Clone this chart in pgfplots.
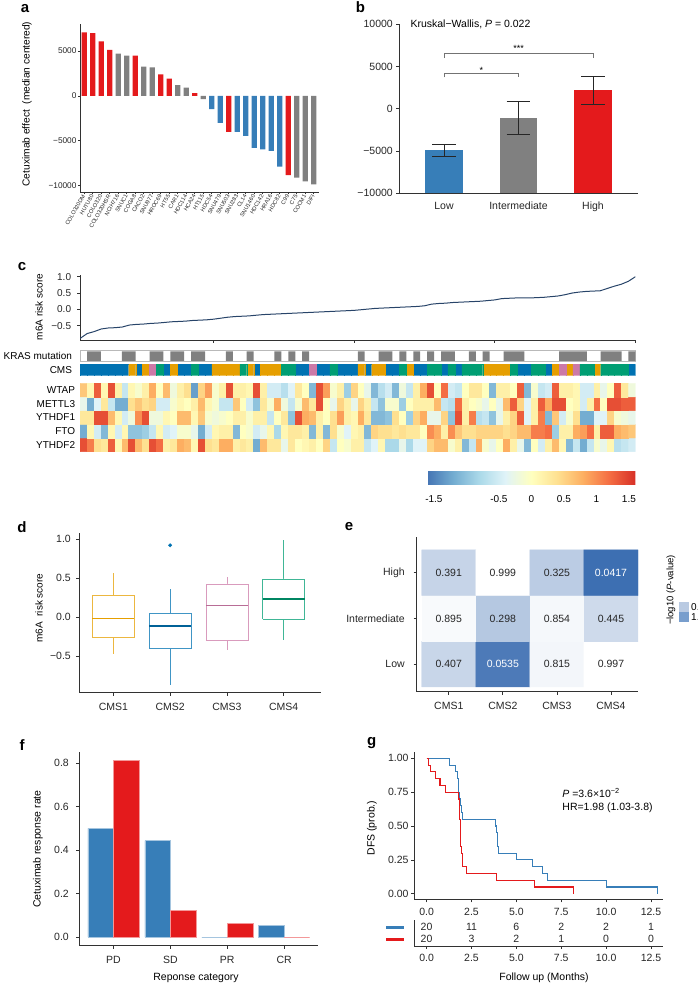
\documentclass[border=0pt]{standalone}
\usepackage{fontspec}
\setmainfont{Liberation Sans}
\usepackage{pgfplots}
\pgfplotsset{compat=1.18}
\newcommand\fs[1]{\fontsize{#1bp}{#1bp}\selectfont}
\definecolor{cred}{RGB}{228,26,28}
\definecolor{cblue}{RGB}{55,126,184}
\definecolor{cgray}{RGB}{128,128,128}
\definecolor{navy}{RGB}{40,68,105}
\definecolor{cms1}{RGB}{230,159,0}
\definecolor{cms2}{RGB}{0,114,178}
\definecolor{cms3}{RGB}{204,121,167}
\definecolor{cms4}{RGB}{0,158,115}
\definecolor{axisc}{RGB}{50,50,50}
\definecolor{lega}{RGB}{185,202,226}
\definecolor{legb}{RGB}{120,158,205}
\pgfplotsset{
  base/.style={scale only axis, anchor=south west, axis lines*=left,
    axis line style={line width=0.7bp, axisc},
    tick style={line width=0.7bp, axisc},
    tick align=outside, major tick length=3bp, scaled ticks=false,
    tick label style={font=\fs{10.5}, text=black!85},
    /pgf/number format/assume math mode=true},
}
\begin{document}
\begin{tikzpicture}[x=1bp,y=1bp]
\useasboundingbox (0,0) rectangle (698,984);

% ---------------- panel a
\begin{axis}[base, at={(80bp,791.7bp)}, width=239.3bp, height=168.3bp,
  xmin=-0.506, xmax=27.65, ymin=-10735, ymax=8007,
  major tick length=2bp,
  ytick={-10000,-5000,0,5000}, yticklabels={−10000,−5000,0,5000},
  yticklabel style={font=\fs{8.3}, xshift=2bp},
  xtick={0,...,27},
  xticklabels={COLO320DM,HUTU80,COLO320,COLO320HSR,NCIH716,SNUC1,COGA8,CACO2,SNU977,HROC69,HT55,CAR1,HDC114,HCA24,HT115,HDC54,SNU479,SNU503,SNU283,CL14,SNU1460,HDC142,HRA16,HDC82,C99,C75,COCM1,DIFI},
  xticklabel style={rotate=60, anchor=east, font=\fs{5.6}, inner sep=1bp}]
\addplot[ybar, bar width=5.3bp, fill=cred, draw=none] coordinates {(0,7074)(1,7000)(2,6074)(3,5111)(6,4481)(9,2407)(10,1926)(13,296)(17,-4000)(24,-8815)};
\addplot[ybar, bar width=5.3bp, fill=cgray, draw=none] coordinates {(4,4700)(5,4481)(7,3259)(8,3185)(11,1185)(12,926)(14,-370)(25,-9111)(26,-9519)(27,-9852)};
\addplot[ybar, bar width=5.3bp, fill=cblue, draw=none] coordinates {(15,-1481)(16,-3000)(18,-4000)(19,-4444)(20,-5778)(21,-5963)(22,-6111)(23,-7889)};
\end{axis}
\node[rotate=90, font=\fs{10.2}] at (27,880) {Cetuximab effect~~(median centered)};
\node[font=\bfseries\fs{15}] at (25,975) {a};

% ---------------- panel b
\begin{axis}[base, at={(399.3bp,790.7bp)}, width=238.4bp, height=169bp,
  xmin=0.4, xmax=3.6, ymin=-10000, ymax=10000,
  ytick={-10000,-5000,0,5000,10000}, yticklabels={−10000,−5000,0,5000,10000},
  xtick={1,2,3}, xticklabels={Low,Intermediate,High},
  x tick style={draw=none}, xticklabel style={yshift=-2bp}]
\addplot[fill=cblue, draw=none, mark=none] coordinates {(0.75,-10000)(0.75,-4921)(1.25,-4921)(1.25,-10000)};
\addplot[fill=cgray, draw=none, mark=none] coordinates {(1.75,-10000)(1.75,-1102)(2.25,-1102)(2.25,-10000)};
\addplot[fill=cred, draw=none, mark=none] coordinates {(2.75,-10000)(2.75,2205)(3.25,2205)(3.25,-10000)};
% error bars
\addplot[black!85, line width=0.8bp, mark=none] coordinates {(1,-5590)(1,-4173)};
\addplot[black!85, line width=0.8bp, mark=none] coordinates {(0.84,-5590)(1.16,-5590)};
\addplot[black!85, line width=0.8bp, mark=none] coordinates {(0.84,-4173)(1.16,-4173)};
\addplot[black!85, line width=0.8bp, mark=none] coordinates {(2,-3031)(2,827)};
\addplot[black!85, line width=0.8bp, mark=none] coordinates {(1.84,-3031)(2.16,-3031)};
\addplot[black!85, line width=0.8bp, mark=none] coordinates {(1.84,827)(2.16,827)};
\addplot[black!85, line width=0.8bp, mark=none] coordinates {(3,512)(3,3819)};
\addplot[black!85, line width=0.8bp, mark=none] coordinates {(2.84,512)(3.16,512)};
\addplot[black!85, line width=0.8bp, mark=none] coordinates {(2.84,3819)(3.16,3819)};
% significance brackets
\addplot[black!55, line width=0.6bp, mark=none] coordinates {(1,5993)(1,6548)(3,6548)(3,5993)};
\addplot[black!55, line width=0.6bp, mark=none] coordinates {(1,3712)(1,4255)(2,4255)(2,3712)};
\node[anchor=base, font=\fs{9}, yshift=1.5bp] at (axis cs:2,6548) {***};
\node[anchor=base, font=\fs{9}, yshift=-0.5bp] at (axis cs:1.5,4255) {*};
\end{axis}
\node[anchor=west, font=\fs{10.5}] at (407,960) {Kruskal−Wallis, \textit{P} = 0.022};
\node[font=\bfseries\fs{15}] at (360.5,976.5) {b};

% ---------------- panel c : risk line
\begin{axis}[base, at={(80.1bp,644bp)}, width=555.3bp, height=64.9bp,
  xmin=1, xmax=80, ymin=-0.937, ymax=1.05,
  xtick={20,40,60,80}, xticklabels={},
  ytick={-0.5,0,0.5,1}, yticklabels={−0.5,0.0,0.5,1.0},
  yticklabel style={font=\fs{10}, xshift=-2.5bp}]
\addplot[navy, line width=1bp, mark=none] coordinates {(1,-0.89)(2,-0.74)(3,-0.68)(4,-0.60)(5,-0.57)(6,-0.56)(7,-0.54)(8,-0.48)(9,-0.46)(10,-0.45)(11,-0.43)(12,-0.42)(13,-0.40)(14,-0.38)(15,-0.37)(16,-0.36)(17,-0.34)(18,-0.33)(19,-0.32)(20,-0.30)(21,-0.27)(22,-0.24)(23,-0.22)(24,-0.21)(25,-0.20)(26,-0.18)(27,-0.16)(28,-0.15)(29,-0.14)(30,-0.13)(31,-0.12)(32,-0.11)(33,-0.10)(34,-0.09)(35,-0.08)(36,-0.07)(37,-0.06)(38,-0.05)(39,-0.04)(40,-0.03)(41,-0.01)(42,0.01)(43,0.03)(44,0.04)(45,0.05)(46,0.06)(47,0.07)(48,0.08)(49,0.09)(50,0.11)(51,0.16)(52,0.18)(53,0.19)(54,0.21)(55,0.22)(56,0.23)(57,0.24)(58,0.25)(59,0.27)(60,0.29)(61,0.33)(62,0.34)(63,0.35)(64,0.35)(65,0.35)(66,0.36)(67,0.37)(68,0.39)(69,0.41)(70,0.45)(71,0.50)(72,0.53)(73,0.55)(74,0.56)(75,0.57)(76,0.64)(77,0.71)(78,0.77)(79,0.86)(80,1.00)};
\end{axis}
\node[rotate=90, font=\fs{10}] at (39,677) {m6A risk score};
\node[font=\bfseries\fs{15}] at (22,717) {c};

% KRAS row
\begin{axis}[scale only axis, anchor=south west, at={(80.1bp,622.3bp)}, width=555.3bp, height=11bp,
  xmin=0.5, xmax=80.5, ymin=-0.08, ymax=1.08, ticks=none,
  axis line style={draw=gray!55, line width=0.6bp}]
\addplot[ybar, bar width=6.94bp, fill=cgray, draw=none] coordinates {(2,1)(3,1)(7,1)(8,1)(11,1)(12,1)(14,1)(15,1)(17,1)(18,1)(22,1)(25,1)(29,1)(31,1)(33,1)(41,1)(44,1)(45,1)(47,1)(49,1)(51,1)(53,1)(54,1)(57,1)(59,1)(62,1)(63,1)(64,1)(70,1)(71,1)(72,1)(73,1)(76,1)(77,1)(78,1)(80,1)};
\end{axis}
\node[anchor=east, font=\fs{10}] at (75.5,628) {KRAS mutation};

% CMS row
\begin{axis}[scale only axis, anchor=south west, at={(80.1bp,608.3bp)}, width=555.3bp, height=11.4bp,
  xmin=0.5, xmax=80.5, ymin=0, ymax=1, ticks=none, axis line style={draw=none}]
\addplot[ybar, bar width=6.94bp, fill=cms2, draw=cms2, line width=0.2bp] coordinates {(1,1)(2,1)(3,1)(4,1)(5,1)(6,1)(7,1)(9,1)(13,1)(15,1)(16,1)(18,1)(19,1)(26,1)(32,1)(33,1)(35,1)(36,1)(38,1)(39,1)(40,1)(42,1)(45,1)(46,1)(49,1)(50,1)(53,1)(55,1)(64,1)(65,1)(68,1)(80,1)};
\addplot[ybar, bar width=6.94bp, fill=cms1, draw=cms1, line width=0.2bp] coordinates {(8,1)(10,1)(14,1)(20,1)(21,1)(22,1)(23,1)(25,1)(27,1)(28,1)(29,1)(41,1)(43,1)(44,1)(48,1)(59,1)(60,1)(61,1)(62,1)(69,1)(71,1)(75,1)};
\addplot[ybar, bar width=6.94bp, fill=cms3, draw=cms3, line width=0.2bp] coordinates {(11,1)(34,1)(70,1)(72,1)};
\addplot[ybar, bar width=6.94bp, fill=cms4, draw=cms4, line width=0.2bp] coordinates {(12,1)(17,1)(24,1)(30,1)(31,1)(37,1)(47,1)(51,1)(52,1)(54,1)(56,1)(57,1)(58,1)(63,1)(66,1)(67,1)(73,1)(74,1)(76,1)(77,1)(78,1)(79,1)};
\end{axis}
\node[anchor=east, font=\fs{10}] at (75.5,614) {CMS};

% heatmap
\begin{axis}[scale only axis, anchor=south west, at={(80.1bp,532.3bp)}, width=555.3bp, height=68.4bp,
  xmin=0.5, xmax=80.5, ymin=0.5, ymax=5.5, axis line style={draw=none},
  xtick=\empty, ytick={1,2,3,4,5}, yticklabels={YTHDF2,FTO,YTHDF1,METTL3,WTAP},
  major tick length=0pt, yticklabel style={font=\fs{10}, xshift=-1.5bp},
  colormap={rdylbu}{rgb255(0cm)=(69,117,180); rgb255(1cm)=(116,173,209); rgb255(2cm)=(171,217,233); rgb255(3cm)=(224,243,248); rgb255(4cm)=(255,255,191); rgb255(5cm)=(254,224,144); rgb255(6cm)=(253,174,97); rgb255(7cm)=(244,109,67); rgb255(8cm)=(215,48,39)},
  point meta min=-1.6, point meta max=1.6,
  colorbar horizontal,
  colorbar style={scale only axis, width=208bp, height=13bp,
    at={(parent axis.south east)}, anchor=north east, yshift=-11.3bp,
    xtick={-1.5,-0.5,0,0.5,1,1.5}, xticklabels={-1.5,-0.5,0,0.5,1,1.5},
    major tick length=0pt, axis line style={draw=none},
    xticklabel style={font=\fs{10}, yshift=-8bp}}]
\addplot[matrix plot*, mesh/cols=80, point meta=explicit] coordinates {
(1,1)[1.4] (2,1)[1.1] (3,1)[0.4] (4,1)[0.3] (5,1)[1.3] (6,1)[0.1] (7,1)[0.7] (8,1)[1.4] (9,1)[0.7] (10,1)[0.4] (11,1)[1.4] (12,1)[1.2] (13,1)[0.2] (14,1)[0.3] (15,1)[0.8] (16,1)[0.7] (17,1)[0.1] (18,1)[1.4] (19,1)[0.4] (20,1)[0.3]
(21,1)[0.8] (22,1)[0.8] (23,1)[0.2] (24,1)[0.3] (25,1)[0.2] (26,1)[-1.2] (27,1)[0.7] (28,1)[0.3] (29,1)[0.3] (30,1)[-0.3] (31,1)[0.3] (32,1)[0.0] (33,1)[0.1] (34,1)[0.2] (35,1)[0.0] (36,1)[0.5] (37,1)[-0.6] (38,1)[0.0] (39,1)[-0.1] (40,1)[0.2]
(41,1)[0.2] (42,1)[-0.6] (43,1)[-0.4] (44,1)[0.1] (45,1)[-0.8] (46,1)[-0.8] (47,1)[-0.3] (48,1)[-0.8] (49,1)[-0.4] (50,1)[-0.4] (51,1)[0.5] (52,1)[0.7] (53,1)[0.7] (54,1)[-0.1] (55,1)[0.2] (56,1)[-1.1] (57,1)[-0.6] (58,1)[0.8] (59,1)[-0.1] (60,1)[-0.3]
(61,1)[0.0] (62,1)[0.8] (63,1)[0.2] (64,1)[-0.3] (65,1)[-1.1] (66,1)[0.0] (67,1)[-0.5] (68,1)[0.2] (69,1)[0.7] (70,1)[0.1] (71,1)[-1.1] (72,1)[-0.6] (73,1)[-1.2] (74,1)[-0.6] (75,1)[-0.1] (76,1)[-0.3] (77,1)[0.1] (78,1)[-0.7] (79,1)[-0.6] (80,1)[-0.5]
(1,2)[-1.2] (2,2)[0.1] (3,2)[-0.5] (4,2)[-1.1] (5,2)[0.1] (6,2)[-0.5] (7,2)[0.1] (8,2)[-1.0] (9,2)[-1.0] (10,2)[-0.9] (11,2)[-0.6] (12,2)[0.1] (13,2)[-0.5] (14,2)[-0.4] (15,2)[-0.1] (16,2)[-0.1] (17,2)[-0.3] (18,2)[-1.2] (19,2)[-0.5] (20,2)[0.1]
(21,2)[0.2] (22,2)[0.2] (23,2)[-1.1] (24,2)[0.0] (25,2)[-0.1] (26,2)[-0.5] (27,2)[-0.3] (28,2)[0.1] (29,2)[-0.8] (30,2)[0.1] (31,2)[0.3] (32,2)[0.3] (33,2)[0.2] (34,2)[-1.1] (35,2)[0.2] (36,2)[-1.1] (37,2)[0.4] (38,2)[-0.1] (39,2)[-0.4] (40,2)[0.1]
(41,2)[0.2] (42,2)[-1.1] (43,2)[0.5] (44,2)[0.4] (45,2)[0.4] (46,2)[0.3] (47,2)[0.4] (48,2)[0.3] (49,2)[0.3] (50,2)[0.0] (51,2)[1.0] (52,2)[0.8] (53,2)[0.2] (54,2)[1.0] (55,2)[0.6] (56,2)[0.4] (57,2)[0.4] (58,2)[0.5] (59,2)[0.5] (60,2)[0.5]
(61,2)[0.5] (62,2)[0.4] (63,2)[0.5] (64,2)[0.7] (65,2)[0.7] (66,2)[1.1] (67,2)[1.1] (68,2)[1.2] (69,2)[-0.9] (70,2)[0.2] (71,2)[0.2] (72,2)[0.8] (73,2)[0.9] (74,2)[1.2] (75,2)[0.2] (76,2)[1.3] (77,2)[1.3] (78,2)[0.8] (79,2)[0.7] (80,2)[0.6]
(1,3)[0.3] (2,3)[0.3] (3,3)[1.4] (4,3)[1.4] (5,3)[0.7] (6,3)[0.1] (7,3)[-0.5] (8,3)[-0.2] (9,3)[1.0] (10,3)[1.4] (11,3)[-0.2] (12,3)[-0.2] (13,3)[0.1] (14,3)[0.0] (15,3)[0.7] (16,3)[0.7] (17,3)[0.1] (18,3)[0.6] (19,3)[-0.1] (20,3)[-0.2]
(21,3)[-0.1] (22,3)[0.0] (23,3)[0.2] (24,3)[0.2] (25,3)[-0.1] (26,3)[0.2] (27,3)[0.2] (28,3)[-0.6] (29,3)[0.0] (30,3)[0.3] (31,3)[-1.0] (32,3)[1.4] (33,3)[0.8] (34,3)[0.7] (35,3)[0.2] (36,3)[0.0] (37,3)[0.4] (38,3)[0.9] (39,3)[0.2] (40,3)[0.1]
(41,3)[0.8] (42,3)[0.3] (43,3)[-1.1] (44,3)[-1.1] (45,3)[-1.0] (46,3)[0.4] (47,3)[0.0] (48,3)[-0.9] (49,3)[0.5] (50,3)[0.8] (51,3)[-0.3] (52,3)[-0.3] (53,3)[0.5] (54,3)[-1.0] (55,3)[1.4] (56,3)[0.2] (57,3)[1.1] (58,3)[-0.7] (59,3)[-0.6] (60,3)[-1.0]
(61,3)[-0.3] (62,3)[0.2] (63,3)[0.5] (64,3)[1.3] (65,3)[-0.4] (66,3)[0.2] (67,3)[1.1] (68,3)[-1.1] (69,3)[0.6] (70,3)[-0.5] (71,3)[-0.1] (72,3)[0.4] (73,3)[-1.2] (74,3)[-1.2] (75,3)[-0.4] (76,3)[-0.4] (77,3)[0.5] (78,3)[-0.1] (79,3)[-0.2] (80,3)[-0.3]
(1,4)[-0.3] (2,4)[-1.2] (3,4)[-0.4] (4,4)[0.3] (5,4)[-0.6] (6,4)[-1.2] (7,4)[-1.2] (8,4)[0.4] (9,4)[0.6] (10,4)[0.4] (11,4)[0.5] (12,4)[-0.5] (13,4)[-0.5] (14,4)[-0.1] (15,4)[0.1] (16,4)[0.0] (17,4)[0.2] (18,4)[0.7] (19,4)[0.1] (20,4)[-0.1]
(21,4)[-0.6] (22,4)[-0.6] (23,4)[0.6] (24,4)[0.0] (25,4)[-0.5] (26,4)[-1.0] (27,4)[0.3] (28,4)[-0.1] (29,4)[0.8] (30,4)[-0.2] (31,4)[-0.6] (32,4)[-0.1] (33,4)[0.7] (34,4)[0.3] (35,4)[1.4] (36,4)[0.0] (37,4)[-0.3] (38,4)[0.5] (39,4)[0.2] (40,4)[-0.3]
(41,4)[0.5] (42,4)[0.2] (43,4)[-0.6] (44,4)[-1.0] (45,4)[-0.1] (46,4)[-0.1] (47,4)[-0.9] (48,4)[0.0] (49,4)[0.2] (50,4)[0.2] (51,4)[0.2] (52,4)[0.7] (53,4)[-0.6] (54,4)[-0.7] (55,4)[1.2] (56,4)[0.2] (57,4)[0.0] (58,4)[-0.1] (59,4)[-0.3] (60,4)[0.0]
(61,4)[-0.3] (62,4)[0.7] (63,4)[1.3] (64,4)[0.5] (65,4)[-0.4] (66,4)[0.2] (67,4)[1.3] (68,4)[0.8] (69,4)[1.4] (70,4)[1.4] (71,4)[0.0] (72,4)[0.1] (73,4)[-0.5] (74,4)[0.2] (75,4)[1.2] (76,4)[0.0] (77,4)[1.4] (78,4)[1.4] (79,4)[1.3] (80,4)[1.3]
(1,5)[0.6] (2,5)[0.1] (3,5)[1.3] (4,5)[0.1] (5,5)[1.4] (6,5)[0.2] (7,5)[-0.6] (8,5)[0.1] (9,5)[-0.1] (10,5)[0.2] (11,5)[0.8] (12,5)[0.0] (13,5)[0.7] (14,5)[-0.2] (15,5)[0.2] (16,5)[0.4] (17,5)[-1.3] (18,5)[0.5] (19,5)[0.9] (20,5)[-0.1]
(21,5)[0.2] (22,5)[1.4] (23,5)[0.2] (24,5)[0.2] (25,5)[0.1] (26,5)[1.4] (27,5)[0.2] (28,5)[-0.5] (29,5)[-0.5] (30,5)[-0.7] (31,5)[-0.4] (32,5)[0.3] (33,5)[0.0] (34,5)[-1.1] (35,5)[1.4] (36,5)[0.9] (37,5)[-0.1] (38,5)[0.2] (39,5)[-0.9] (40,5)[0.5]
(41,5)[0.0] (42,5)[-0.3] (43,5)[-1.1] (44,5)[-0.7] (45,5)[-0.5] (46,5)[-1.1] (47,5)[-0.2] (48,5)[-0.6] (49,5)[0.2] (50,5)[0.8] (51,5)[1.4] (52,5)[0.0] (53,5)[1.2] (54,5)[-0.5] (55,5)[-0.6] (56,5)[0.0] (57,5)[0.3] (58,5)[0.3] (59,5)[0.0] (60,5)[-1.1]
(61,5)[0.2] (62,5)[0.2] (63,5)[0.0] (64,5)[1.3] (65,5)[-1.1] (66,5)[-0.1] (67,5)[-0.6] (68,5)[-0.5] (69,5)[1.3] (70,5)[0.2] (71,5)[0.2] (72,5)[0.1] (73,5)[-0.5] (74,5)[-0.5] (75,5)[0.2] (76,5)[-0.3] (77,5)[0.0] (78,5)[1.3] (79,5)[0.3] (80,5)[-0.2]
};
\end{axis}

% ---------------- panel d
\begin{axis}[base, at={(79.3bp,291.3bp)}, width=241.3bp, height=160bp,
  xmin=0.4, xmax=4.65, ymin=-0.97, ymax=1.085,
  xtick={1,2,3,4}, xticklabels={CMS1,CMS2,CMS3,CMS4}, xticklabel style={yshift=-4bp},
  ytick={-0.5,0,0.5,1}, yticklabels={−0.5,0.0,0.5,1.0}, yticklabel style={xshift=-2bp}]
% CMS1
\addplot[cms1!75, line width=0.7bp, mark=none] coordinates {(1,0.274)(1,0.573)};
\addplot[cms1!75, line width=0.7bp, mark=none] coordinates {(1,-0.26)(1,-0.47)};
\addplot[cms1!75, line width=0.7bp, mark=none, fill=white] coordinates {(0.63,-0.26)(1.37,-0.26)(1.37,0.274)(0.63,0.274)(0.63,-0.26)};
\addplot[cms1, line width=1.4bp, mark=none] coordinates {(0.63,-0.017)(1.37,-0.017)};
% CMS2
\addplot[cms2!75, line width=0.7bp, mark=none] coordinates {(2,0.043)(2,0.359)};
\addplot[cms2!75, line width=0.7bp, mark=none] coordinates {(2,-0.397)(2,-0.876)};
\addplot[cms2!75, line width=0.7bp, mark=none, fill=white] coordinates {(1.63,-0.397)(2.37,-0.397)(2.37,0.043)(1.63,0.043)(1.63,-0.397)};
\addplot[cms2!85!black, line width=1.4bp, mark=none] coordinates {(1.63,-0.111)(2.37,-0.111)};
\addplot[only marks, mark=*, mark size=1.7bp, cms2] coordinates {(2,0.923)};
% CMS3
\addplot[cms3!75, line width=0.7bp, mark=none] coordinates {(3,0.427)(3,0.521)};
\addplot[cms3!75, line width=0.7bp, mark=none] coordinates {(3,-0.303)(3,-0.427)};
\addplot[cms3!75, line width=0.7bp, mark=none, fill=white] coordinates {(2.63,-0.303)(3.37,-0.303)(3.37,0.427)(2.63,0.427)(2.63,-0.303)};
\addplot[cms3!90!black, line width=1.4bp, mark=none] coordinates {(2.63,0.150)(3.37,0.150)};
% CMS4
\addplot[cms4!75, line width=0.7bp, mark=none] coordinates {(4,0.491)(4,0.991)};
\addplot[cms4!75, line width=0.7bp, mark=none] coordinates {(4,-0.026)(4,-0.29)};
\addplot[cms4!75, line width=0.7bp, mark=none, fill=white] coordinates {(3.63,-0.026)(4.37,-0.026)(4.37,0.491)(3.63,0.491)(3.63,-0.026)};
\addplot[cms4!85!black, line width=1.4bp, mark=none] coordinates {(3.63,0.231)(4.37,0.231)};
\end{axis}
\node[rotate=90, font=\fs{10}] at (39,376) {m6A~~risk score};
\node[font=\bfseries\fs{15}] at (22,457) {d};

% ---------------- panel e
\begin{axis}[base, at={(416.7bp,292.3bp)}, width=221.3bp, height=154.7bp,
  xmin=0.407, xmax=4.5, ymin=0.397, ymax=3.78,
  xtick={1,2,3,4}, xticklabels={CMS1,CMS2,CMS3,CMS4}, xticklabel style={yshift=-3.5bp},
  ytick={1,2,3}, yticklabels={Low,Intermediate,High}, yticklabel style={xshift=-5.5bp},
  colormap={eblue}{rgb255(0cm)=(255,255,255); rgb255(1cm)=(60,110,177)},
  point meta min=0, point meta max=1.4]
\addplot[matrix plot*, mesh/cols=4, point meta=explicit] coordinates {(1,1)[0.390] (2,1)[1.272] (3,1)[0.089] (4,1)[0.001] (1,2)[0.048] (2,2)[0.526] (3,2)[0.069] (4,2)[0.352] (1,3)[0.408] (2,3)[0.000] (3,3)[0.488] (4,3)[1.380]};
\addplot[draw=none, mark=none, point meta=explicit symbolic, nodes near coords, nodes near coords align={center}, every node near coord/.append style={font=\fs{10.5}, text=black!85, anchor=center}] coordinates {(1,3)[0.391] (2,3)[0.999] (3,3)[0.325] (1,2)[0.895] (2,2)[0.298] (3,2)[0.854] (4,2)[0.445] (1,1)[0.407] (3,1)[0.815] (4,1)[0.997]};
\addplot[draw=none, mark=none, point meta=explicit symbolic, nodes near coords, nodes near coords align={center}, every node near coord/.append style={font=\fs{10.5}, text=white, anchor=center}] coordinates {(4,3)[0.0417] (2,1)[0.0535]};
\end{axis}
\node[font=\bfseries\fs{15}] at (349,457) {e};
\node[rotate=90, font=\fs{9.5}] at (671,394) {−log10 (\textit{P}-value)};
\fill[lega] (679,372) rectangle (689,382);
\fill[legb] (679,362) rectangle (689,372);
\node[anchor=west, font=\fs{10}, inner sep=1bp] at (690,377) {0.5};
\node[anchor=west, font=\fs{10}, inner sep=1bp] at (690,367) {1.0};

% ---------------- panel f
\begin{axis}[base, at={(79.3bp,38.3bp)}, width=239bp, height=194bp,
  xmin=0.4, xmax=4.6, ymin=-0.039, ymax=0.853,
  ybar=0pt, bar width=25.5bp,
  xtick={1,2,3,4}, xticklabels={PD,SD,PR,CR}, xticklabel style={yshift=-4bp},
  ytick={0,0.2,0.4,0.6,0.8}, yticklabels={0.0,0.2,0.4,0.6,0.8}, yticklabel style={xshift=-4bp}]
\addplot[fill=cblue, draw=cblue!45!white, line width=0.5bp] coordinates {(1,0.5)(2,0.4444)(3,0)(4,0.0556)};
\addplot[fill=cred, draw=cred!45!white, line width=0.5bp] coordinates {(1,0.8125)(2,0.125)(3,0.0625)(4,0)};
\end{axis}
\node[rotate=90, font=\fs{10.5}] at (37.8,135) {Cetuximab response rate};
\node[font=\fs{10.5}] at (196,6) {Reponse category};
\node[font=\bfseries\fs{15}] at (22,239) {f};

% ---------------- panel g
\begin{axis}[base, at={(414bp,84.7bp)}, width=249.4bp, height=147.6bp,
  xmin=-0.7, xmax=13.19, ymin=-0.041, ymax=1.049,
  xtick={0,2.5,5,7.5,10,12.5}, xticklabels={0.0,2.5,5.0,7.5,10.0,12.5}, xticklabel style={yshift=-2bp},
  ytick={0,0.25,0.5,0.75,1}, yticklabels={0.00,0.25,0.50,0.75,1.00}, yticklabel style={xshift=1bp}]
\addplot[cblue, line width=1.1bp, mark=none, const plot mark left] coordinates {(0,1)(1.29,0.95)(1.59,0.90)(1.70,0.85)(1.76,0.80)(1.80,0.75)(1.84,0.70)(1.88,0.65)(1.92,0.60)(1.98,0.55)(3.85,0.50)(3.89,0.45)(3.93,0.40)(3.97,0.35)(4.02,0.30)(5.0,0.25)(5.88,0.20)(6.45,0.15)(6.75,0.10)(10.02,0.05)(12.85,0.0)};
\addplot[cred, line width=1.1bp, mark=none, const plot mark left] coordinates {(0,1)(0.1,0.95)(0.2,0.90)(0.5,0.85)(0.75,0.80)(1.04,0.75)(1.79,0.70)(1.81,0.65)(1.83,0.60)(1.85,0.55)(1.87,0.50)(1.88,0.45)(1.89,0.40)(1.90,0.35)(1.92,0.30)(2.0,0.20)(2.2,0.15)(3.9,0.10)(6.0,0.05)(8.16,0.0)};
\node[anchor=west, font=\fs{10.5}] at (axis cs:7.37,0.746) {\textit{P} =3.6×10\textsuperscript{−2}};
\node[anchor=west, font=\fs{10.5}] at (axis cs:7.37,0.633) {HR=1.98 (1.03-3.8)};
\end{axis}
\node[rotate=90, font=\fs{10.5}] at (371.8,156) {DFS (prob.)};
\node[font=\bfseries\fs{15}] at (371.7,240.7) {g};

% risk table
\begin{axis}[base, at={(414bp,38bp)}, width=249.4bp, height=26bp,
  xmin=-0.7, xmax=13.19, ymin=0, ymax=26,
  xtick={0,2.5,5,7.5,10,12.5}, xticklabels={0.0,2.5,5.0,7.5,10.0,12.5}, xticklabel style={yshift=-2bp},
  ytick={6.7,18.7}, yticklabels={{\textcolor{cred}{\rule{18bp}{3.5bp}}},{\textcolor{cblue}{\rule{18bp}{3.5bp}}}},
  y tick style={draw=none}, yticklabel style={xshift=-3bp}]
\addplot[draw=none, mark=none, point meta=explicit symbolic, nodes near coords, nodes near coords align={center}, every node near coord/.append style={font=\fs{10.5}, text=black!85, anchor=center}] coordinates {(0,18.7)[20] (2.5,18.7)[11] (5,18.7)[6] (7.5,18.7)[2] (10,18.7)[2] (12.5,18.7)[1] (0,6.7)[20] (2.5,6.7)[3] (5,6.7)[2] (7.5,6.7)[1] (10,6.7)[0] (12.5,6.7)[0]};
\end{axis}
\node[font=\fs{10.5}] at (544,6) {Follow up (Months)};
\end{tikzpicture}
\end{document}
